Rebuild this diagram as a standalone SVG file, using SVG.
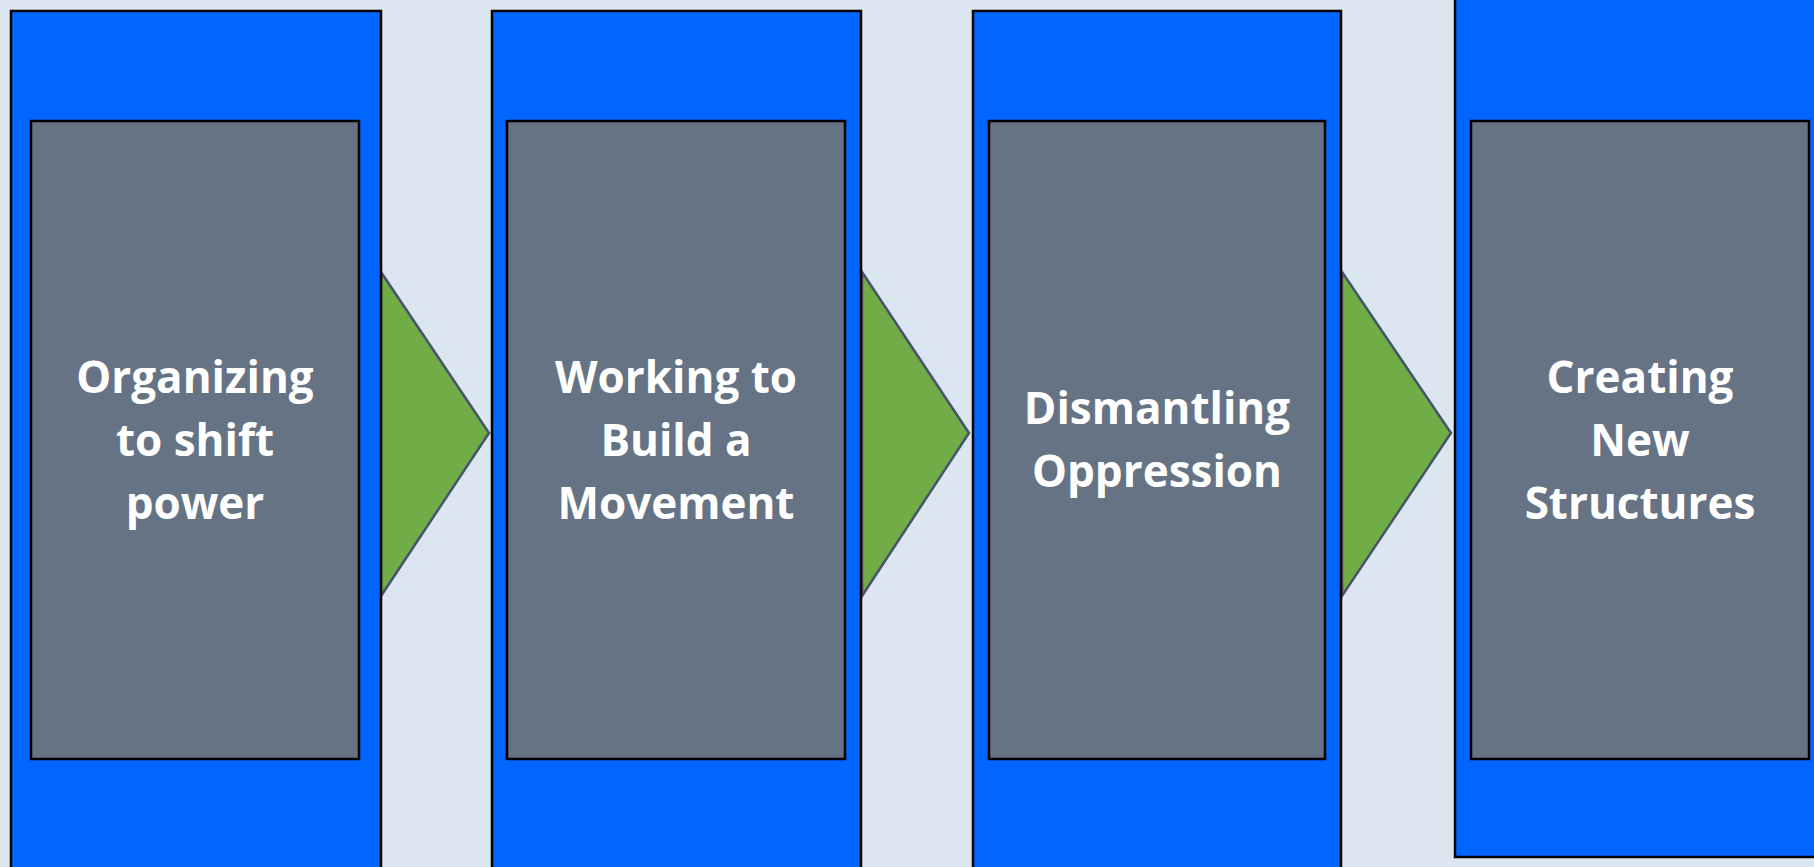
<svg xmlns="http://www.w3.org/2000/svg" width="1814" height="867" viewBox="0 0 1814 867">
<style>
.bg{fill:#DCE6F0}
.col{fill:#0066FF;stroke:#000;stroke-width:2.5}
.box{fill:#667385;stroke:#000;stroke-width:2.5}
.arr{fill:#70AD47;stroke:#44546A;stroke-width:2.5;stroke-linejoin:miter}
.t{font-family:"Open Sans","Liberation Sans",sans-serif;font-weight:bold;font-size:44px;fill:#fff;text-anchor:middle}
</style>
<rect class="bg" x="0" y="0" width="1814" height="867"/>
<g id="connectors">
<polygon class="arr" points="381,272 489,433 381,596"/>
<polygon class="arr" points="862,272 969,433 862,596"/>
<polygon class="arr" points="1342,272 1451,433 1342,596"/>
</g>
<g id="node1">
<rect class="col" x="11" y="11" width="370" height="870"/>
<rect class="box" x="31" y="121" width="328" height="638"/>
<text class="t" x="195" y="393">Organizing</text>
<text class="t" x="195" y="456">to shift</text>
<text class="t" x="195" y="519">power</text>
</g>
<g id="node2">
<rect class="col" x="492" y="11" width="369" height="870"/>
<rect class="box" x="507" y="121" width="338" height="638"/>
<text class="t" x="676" y="393">Working to</text>
<text class="t" x="676" y="456">Build a</text>
<text class="t" x="676" y="519">Movement</text>
</g>
<g id="node3">
<rect class="col" x="973" y="11" width="368" height="870"/>
<rect class="box" x="989" y="121" width="336" height="638"/>
<text class="t" x="1157" y="424">Dismantling</text>
<text class="t" x="1157" y="487">Oppression</text>
</g>
<g id="node4">
<rect class="col" x="1455" y="-2" width="380" height="859"/>
<rect class="box" x="1471" y="121" width="338" height="638"/>
<text class="t" x="1640" y="393">Creating</text>
<text class="t" x="1640" y="456">New</text>
<text class="t" x="1640" y="519">Structures</text>
</g>
</svg>
